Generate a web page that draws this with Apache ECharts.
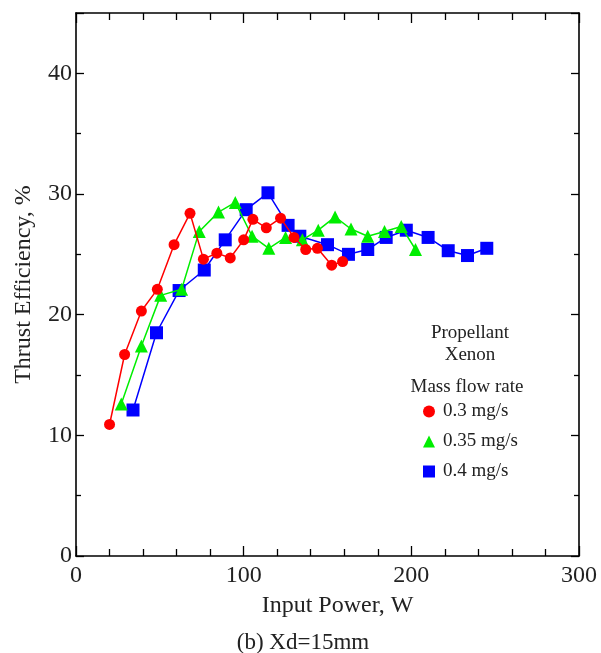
<!DOCTYPE html>
<html><head><meta charset="utf-8">
<script src="https://cdn.jsdelivr.net/npm/echarts@6/dist/echarts.min.js"></script>
<style>html,body{margin:0;padding:0;background:#fff}#c{width:601px;height:653px}</style>
</head><body><div id="c"></div>
<script>
const seriesNames = ['0.3 mg/s', '0.35 mg/s', '0.4 mg/s'];
const power03 = [20, 29, 39, 48.5, 58.5, 68, 76, 84, 92, 100, 105.5, 113.5, 122, 130, 137, 144, 152.5, 159];
const eff03   = [10.9, 16.7, 20.3, 22.1, 25.8, 28.4, 24.6, 25.1, 24.7, 26.2, 27.9, 27.2, 28.0, 26.4, 25.4, 25.5, 24.1, 24.4];
const power035 = [27, 39, 50.5, 63, 73.5, 85, 95, 105, 115, 125, 135, 144.5, 154.5, 164, 174, 184, 194, 202.5];
const eff035   = [12.6, 17.4, 21.6, 22.1, 26.9, 28.5, 29.3, 26.5, 25.5, 26.4, 26.2, 27.0, 28.1, 27.1, 26.5, 26.9, 27.3, 25.4];
const power04 = [34, 48, 61.5, 76.5, 89, 101.5, 114.5, 126.5, 133.5, 150, 162.5, 174, 185, 197, 210, 222, 233.5, 245];
const eff04   = [12.1, 18.5, 22.0, 23.7, 26.2, 28.7, 30.1, 27.4, 26.5, 25.8, 25.0, 25.4, 26.4, 27.0, 26.4, 25.3, 24.9, 25.5];
const xTicks = [0, 100, 200, 300];
const yTicks = [0, 10, 20, 30, 40];

const pair = (xs, ys) => xs.map((x, i) => [x, ys[i]]);
const FONT = '"Liberation Serif", "Times New Roman", serif';
const colors = ['#ff0000', '#00ee00', '#0000ff'];
const symbols = ['circle', 'triangle', 'rect'];
const sizes = [11, 13, 13];
const datas = [pair(power03, eff03), pair(power035, eff035), pair(power04, eff04)];

const axisLine = {show: true, onZero: false, lineStyle: {color: '#000', width: 1.6}};
function xAx(pos, labels) {
  return {
    type: 'value', position: pos, min: 0, max: 300, interval: 100,
    axisLine: axisLine,
    axisTick: {show: true, inside: true, length: 10, lineStyle: {color: '#000', width: 1.3}},
    minorTick: {show: true, splitNumber: 5, length: 7, lineStyle: {color: '#000', width: 1.3}},
    splitLine: {show: false},
    axisLabel: {show: labels, color: '#222', fontFamily: FONT, fontSize: 24, margin: 8,
      formatter: v => xTicks.includes(v) ? String(v) : ''},
    name: labels ? 'Input Power, W' : '', nameLocation: 'middle', nameGap: 38,
    nameTextStyle: {color: '#222', fontFamily: FONT, fontSize: 24, padding: [0, 0, 0, 20]}
  };
}
function yAx(pos, labels) {
  return {
    type: 'value', position: pos, min: 0, max: 45, interval: 10,
    axisLine: axisLine,
    axisTick: {show: true, inside: true, length: 8, lineStyle: {color: '#000', width: 1.3}},
    minorTick: {show: true, splitNumber: 2, length: 5, lineStyle: {color: '#000', width: 1.3}},
    splitLine: {show: false},
    axisLabel: {show: labels, color: '#222', fontFamily: FONT, fontSize: 24, margin: 4,
      formatter: v => yTicks.includes(v) ? String(v) : ''},
    name: labels ? 'Thrust Efficiency, %' : '', nameLocation: 'middle', nameGap: 40,
    nameTextStyle: {color: '#222', fontFamily: FONT, fontSize: 24}
  };
}

const chart = echarts.init(document.getElementById('c'), null, {renderer: 'canvas'});
chart.setOption({
  animation: false,
  backgroundColor: '#fff',
  grid: {left: 76, top: 13, right: 22, bottom: 97, containLabel: false},
  xAxis: [xAx('bottom', true), xAx('top', false)],
  yAxis: [yAx('left', true), yAx('right', false)],
  legend: {
    orient: 'vertical', left: 418, top: 397, itemGap: 11,
    itemWidth: 12, itemHeight: 12,
    textStyle: {fontFamily: FONT, fontSize: 19, color: '#222', padding: [0, 0, 0, 3]},
    data: seriesNames.map((n, i) => ({name: n, icon: symbols[i]}))
  },
  graphic: [
    {type: 'text', x: 470, y: 333, style: {text: 'Propellant', font: '19px ' + FONT, fill: '#222', align: 'center', verticalAlign: 'middle'}},
    {type: 'text', x: 470, y: 355, style: {text: 'Xenon', font: '19px ' + FONT, fill: '#222', align: 'center', verticalAlign: 'middle'}},
    {type: 'text', x: 467, y: 387, style: {text: 'Mass flow rate', font: '19px ' + FONT, fill: '#222', align: 'center', verticalAlign: 'middle'}},
    {type: 'text', x: 303, y: 643, style: {text: '(b) Xd=15mm', font: '23px ' + FONT, fill: '#222', align: 'center', verticalAlign: 'middle'}}
  ],
  series: seriesNames.map((n, i) => ({
    name: n, type: 'line', xAxisIndex: 0, yAxisIndex: 0,
    data: datas[i], symbol: symbols[i], symbolSize: sizes[i],
    lineStyle: {color: colors[i], width: 1.5},
    itemStyle: {color: colors[i]},
    z: 3 - i
  }))
});
</script></body></html>
